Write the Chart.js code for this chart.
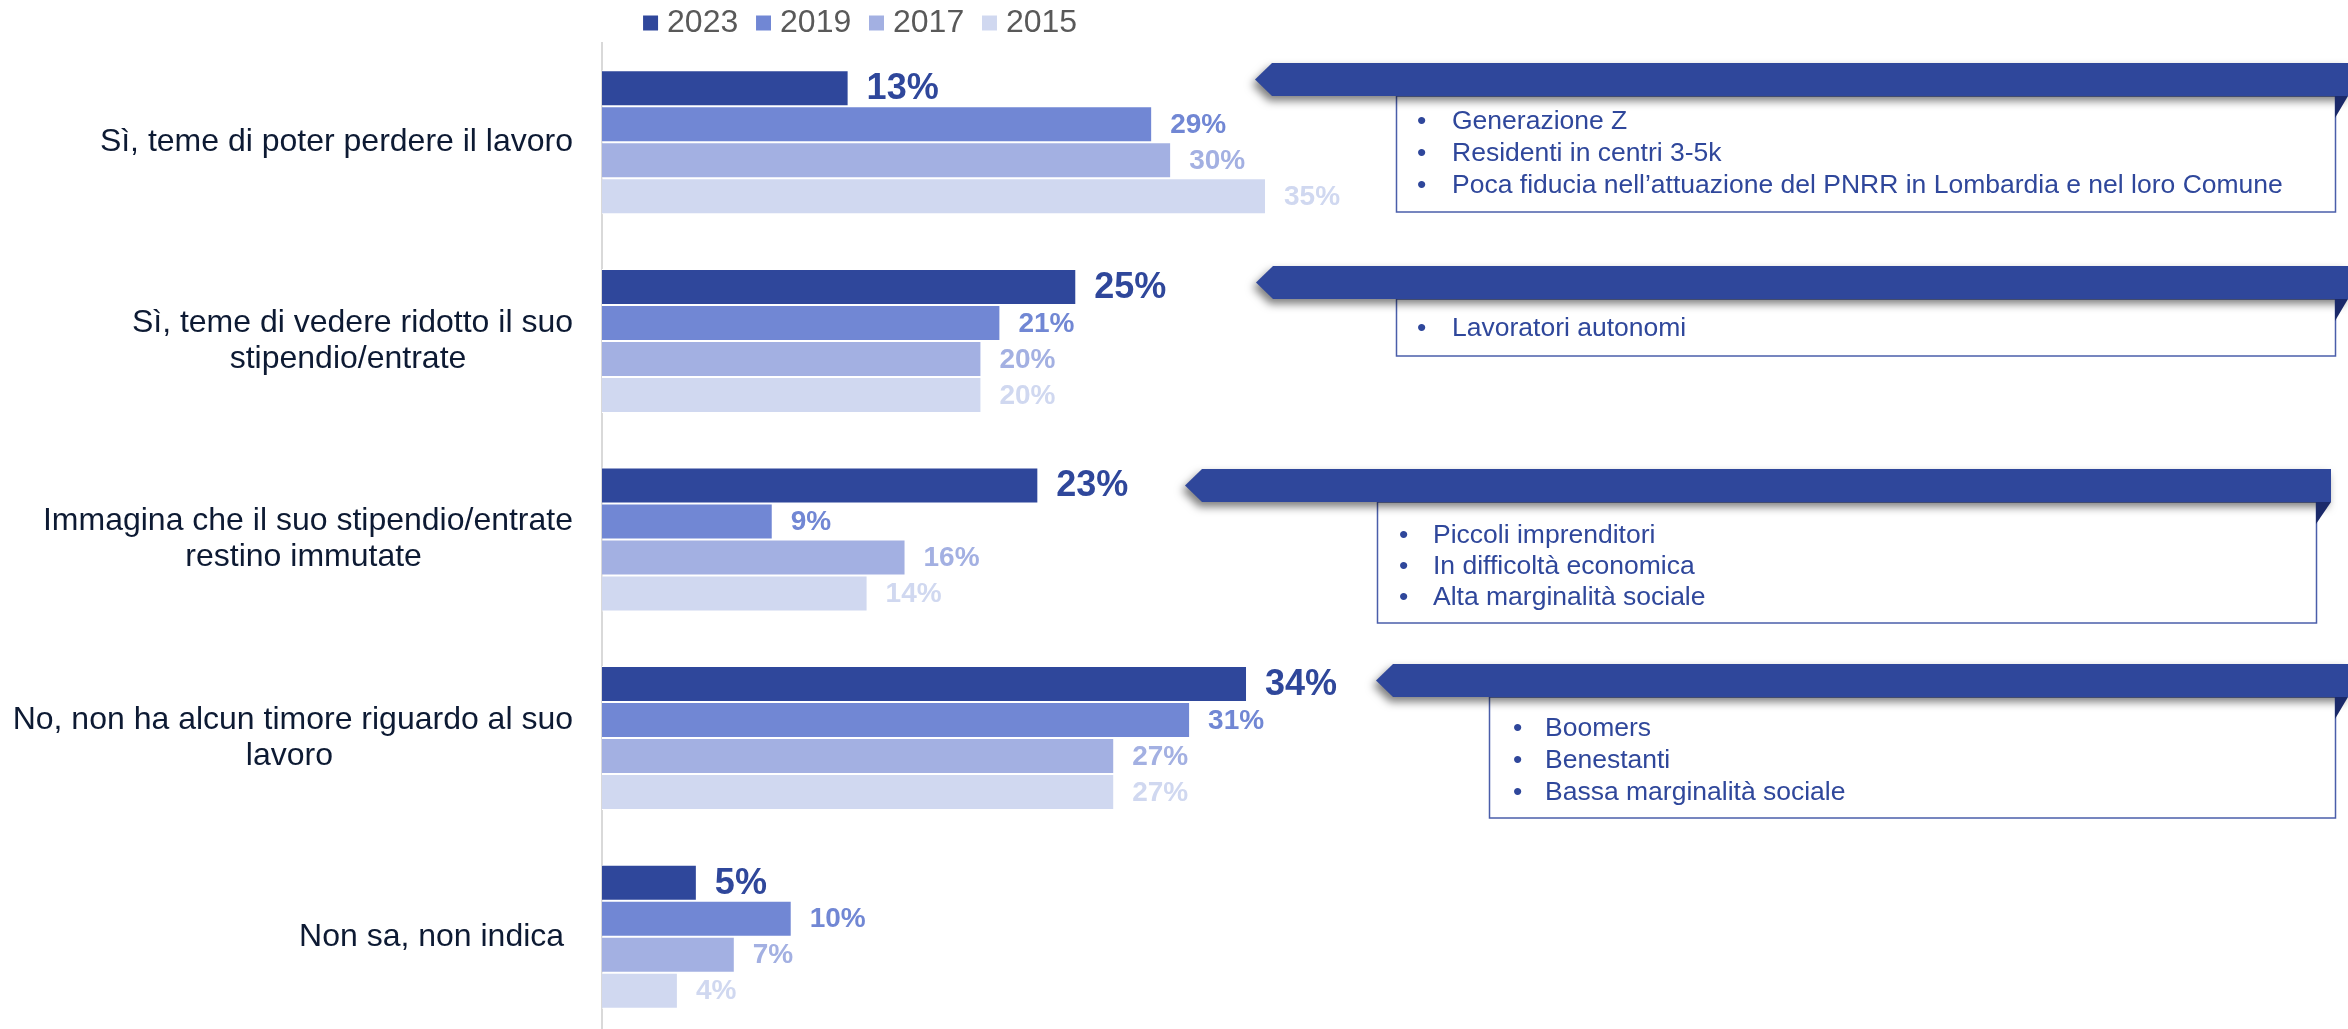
<!DOCTYPE html>
<html><head><meta charset="utf-8">
<script src="https://cdn.jsdelivr.net/npm/chart.js@4.4.1/dist/chart.umd.min.js"></script>
<style>
html,body{margin:0;padding:0;background:#fff;width:2348px;height:1029px;overflow:hidden;}
#wrap{position:relative;width:2348px;height:1036px;}
</style></head><body>
<div id="wrap"><canvas id="c"></canvas></div>
<script>
// ---- data ----
const categories = [
  ["Sì, teme di poter perdere il lavoro"],
  ["Sì, teme di vedere ridotto il suo", "stipendio/entrate"],
  ["Immagina che il suo stipendio/entrate", "restino immutate"],
  ["No, non ha alcun timore riguardo al suo", "lavoro"],
  ["Non sa, non indica "]
];
const seriesNames = ["2023", "2019", "2017", "2015"];
const values2023 = [13, 25, 23, 34, 5];
const values2019 = [29, 21, 9, 31, 10];
const values2017 = [30, 20, 16, 27, 7];
const values2015 = [35, 20, 14, 27, 4];
const calloutTexts = [
  ["Generazione Z", "Residenti in centri 3-5k", "Poca fiducia nell’attuazione del PNRR in Lombardia e nel loro Comune"],
  ["Lavoratori autonomi"],
  ["Piccoli imprenditori", "In difficoltà economica", "Alta marginalità sociale"],
  ["Boomers", "Benestanti", "Bassa marginalità sociale"]
];

// ---- styles ----
const FONT = '"Liberation Sans", Arial, sans-serif';
const colors = ['#2F479B', '#7187D4', '#A3B0E2', '#D0D8F0'];
const seriesValues = [values2023, values2019, values2017, values2015];

const mctx = document.createElement('canvas').getContext('2d');
mctx.font = '32px ' + FONT;

const calloutLayout = [
  {tip:1255, top:63,  bottom:96,  right:2348, boxL:1396, boxR:2335, boxB:212, bulletX:1417, textX:1452, y0:122, gap:32},
  {tip:1256, top:266, bottom:299, right:2348, boxL:1396, boxR:2335, boxB:356, bulletX:1417, textX:1452, y0:329, gap:32},
  {tip:1185, top:469, bottom:502, right:2331, boxL:1377, boxR:2316, boxB:623, bulletX:1399, textX:1433, y0:536, gap:31},
  {tip:1376, top:664, bottom:697, right:2348, boxL:1489, boxR:2335, boxB:818, bulletX:1513, textX:1545, y0:729, gap:32}
];

const valueLabels = {
  id: 'valueLabels',
  afterDatasetsDraw(chart) {
    const ctx = chart.ctx;
    chart.data.datasets.forEach((ds, di) => {
      const meta = chart.getDatasetMeta(di);
      meta.data.forEach((bar, i) => {
        ctx.save();
        ctx.font = 'bold ' + (di === 0 ? 36 : 28) + 'px ' + FONT;
        ctx.fillStyle = colors[di];
        ctx.textBaseline = 'middle';
        ctx.textAlign = 'left';
        ctx.fillText(ds.data[i] + '%', bar.x + 18, bar.y + 1);
        ctx.restore();
      });
    });
  }
};

const callouts = {
  id: 'callouts',
  afterDraw(chart) {
    const ctx = chart.ctx;
    calloutLayout.forEach((c, k) => {
      ctx.save();
      ctx.fillStyle = '#fff';
      ctx.fillRect(c.boxL, c.bottom, c.boxR - c.boxL, c.boxB - c.bottom);
      ctx.strokeStyle = '#4A5EAA';
      ctx.lineWidth = 1.5;
      ctx.strokeRect(c.boxL + 0.5, c.bottom, c.boxR - c.boxL, c.boxB - c.bottom);
      ctx.shadowColor = 'rgba(0,0,0,0.5)';
      ctx.shadowBlur = 8;
      ctx.shadowOffsetX = -3;
      ctx.shadowOffsetY = 5;
      ctx.fillStyle = '#2F479B';
      const mid = (c.top + c.bottom) / 2;
      ctx.beginPath();
      ctx.moveTo(c.tip + 17, c.top);
      ctx.lineTo(c.right, c.top);
      ctx.lineTo(c.right, c.bottom);
      ctx.lineTo(c.tip + 17, c.bottom);
      ctx.lineTo(c.tip, mid);
      ctx.closePath();
      ctx.fill();
      ctx.shadowColor = 'transparent';
      ctx.fillStyle = '#1B2A6A';
      ctx.beginPath();
      ctx.moveTo(c.boxR, c.bottom);
      ctx.lineTo(c.right, c.bottom);
      ctx.lineTo(c.boxR, c.bottom + 22);
      ctx.closePath();
      ctx.fill();
      ctx.fillStyle = '#2F479B';
      ctx.font = '26.5px ' + FONT;
      ctx.textBaseline = 'middle';
      ctx.textAlign = 'left';
      calloutTexts[k].forEach((t, j) => {
        const y = c.y0 + j * c.gap;
        ctx.fillText('•', c.bulletX, y);
        ctx.fillText(t, c.textX, y);
      });
      ctx.restore();
    });
  }
};

new Chart(document.getElementById('c'), {
  type: 'bar',
  data: {
    labels: categories.map(c => c.join(' ')),
    datasets: seriesNames.map((name, i) => ({
      label: name,
      data: seriesValues[i],
      backgroundColor: colors[i],
      borderColor: '#ffffff',
      borderWidth: 1,
      borderSkipped: 'start',
      categoryPercentage: 0.725,
      barPercentage: 1
    }))
  },
  options: {
    indexAxis: 'y',
    responsive: true,
    maintainAspectRatio: false,
    animation: false,
    layout: { padding: { left: 0, right: 603, top: 0, bottom: 0 } },
    plugins: {
      tooltip: { enabled: false },
      legend: {
        position: 'top',
        maxHeight: 43,
        labels: {
          usePointStyle: true,
          pointStyle: 'rect',
          boxWidth: 1, boxHeight: 15, padding: 7,
          color: '#595959',
          font: { family: FONT, size: 32 },
          generateLabels(chart) {
            const items = Chart.defaults.plugins.legend.labels.generateLabels(chart);
            items.forEach(it => {
              it.lineWidth = 0;
              it.strokeStyle = it.fillStyle;
              it.pointStyle = 'rect';
              it.text = it.text + '\u00A0\u00A0';
            });
            return items;
          }
        }
      }
    },
    scales: {
      x: { display: false, min: 0, max: 60.25 },
      y: {
        afterFit(scale) {
          scale.width = 602;
          scale.paddingTop = 0;
          scale.paddingBottom = 0;
        },
        grid: { display: false, drawTicks: false },
        border: { display: true, color: '#D9D9D9', width: 2 },
        ticks: {
          padding: 29,
          color: '#0D1A33',
          font: { family: FONT, size: 32, lineHeight: 1.12 },
          autoSkip: false,
          callback(value, index) {
            const lines = categories[index];
            if (lines.length === 1) return lines[0];
            const w0 = mctx.measureText(lines[0]).width;
            const sp = mctx.measureText('\u00A0').width;
            return lines.map(l => {
              const n = Math.round((w0 - mctx.measureText(l).width) / 2 / sp);
              return l + '\u00A0'.repeat(Math.max(0, n));
            });
          }
        }
      }
    }
  },
  plugins: [valueLabels, callouts]
});
</script>
</body></html>
